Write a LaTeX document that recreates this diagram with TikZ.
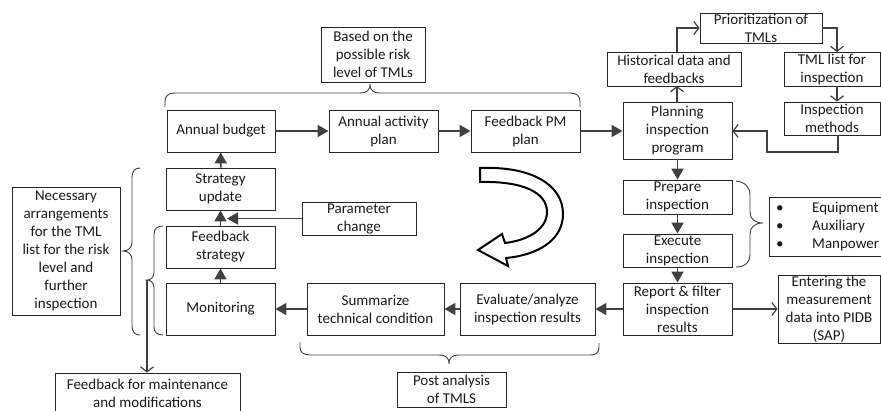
\documentclass[tikz,border=0pt]{standalone}
\usepackage{fontspec}
\setmainfont{Carlito}
\usetikzlibrary{arrows.meta}
\definecolor{ln}{HTML}{404040}
\definecolor{bd}{HTML}{262626}
\definecolor{tx}{HTML}{1A1A1A}
\begin{document}
\begin{tikzpicture}[x=1pt,y=-1pt,
  font=\fontsize{15}{18}\selectfont,
  box/.style={draw=bd,line width=0.9pt,inner sep=0pt,align=center,text=tx},
  farr/.style={draw=ln,line width=1.8pt,-{Triangle[length=11pt,width=12pt]}},
  oarr/.style={draw=ln,line width=1.6pt,-{Straight Barb[length=5pt,width=13pt,line width=1.2pt]}},
  brace/.style={draw=ln,line width=0.9pt},
  hollow/.style={draw=black,line width=2pt,fill=white,line join=miter}]
\useasboundingbox (0,0) rectangle (881,410);

% nodes
\node[box,minimum width=108pt,minimum height=42pt] (budget) at (221,131) {Annual budget};
\node[box,minimum width=109pt,minimum height=42pt] (activity) at (383.5,131) {Annual activity\\plan};
\node[box,minimum width=109pt,minimum height=42pt] (pm) at (525.5,131) {Feedback PM\\plan};
\node[box,minimum width=104pt,minimum height=55pt] (based) at (373,54.5) {Based on the\\possible risk\\level of TMLs};
\node[box,minimum width=122pt,minimum height=30pt] (prio) at (761,28) {Prioritization of\\TMLs};
\node[box,minimum width=134pt,minimum height=34pt] (hist) at (674,69) {Historical data and\\feedbacks};
\node[box,minimum width=96pt,minimum height=34pt] (tmllist) at (832,69) {TML list for\\inspection};
\node[box,minimum width=96pt,minimum height=33pt] (methods) at (832,118.5) {Inspection\\methods};
\node[box,minimum width=109pt,minimum height=57pt] (planning) at (677.5,130.5) {Planning\\inspection\\program};
\node[box,minimum width=109pt,minimum height=34pt] (prepare) at (677.5,197) {Prepare\\inspection};
\node[box,minimum width=109pt,minimum height=33pt] (execute) at (677.5,250.5) {Execute\\inspection};
\node[box,minimum width=109pt,minimum height=52pt] (report) at (677.5,309) {Report \& filter\\inspection\\results};
\node[box,minimum width=102pt,minimum height=68pt] (entering) at (829,309) {Entering the\\measurement\\data into PIDB\\(SAP)};
\node[box,minimum width=115pt,minimum height=59pt] (equip) at (826.5,226.5) {};
\node[anchor=west,align=left,inner sep=0pt,text=tx] (equiptext) at (776,226.5)
  {\makebox[36pt][l]{•}Equipment\\\makebox[36pt][l]{•}Auxiliary\\\makebox[36pt][l]{•}Manpower};
\node[box,minimum width=135pt,minimum height=52pt] (evaluate) at (527.5,309) {Evaluate/analyze\\inspection results};
\node[box,minimum width=137pt,minimum height=52pt] (summarize) at (375.5,309) {Summarize\\technical condition};
\node[box,minimum width=109pt,minimum height=35pt] (post) at (451.5,389.5) {Post analysis\\of TMLS};
\node[box,minimum width=114pt,minimum height=33pt] (param) at (359,218.5) {Parameter\\change};
\node[box,minimum width=109pt,minimum height=42pt] (strategy) at (220.5,189) {Strategy\\update};
\node[box,minimum width=109pt,minimum height=42pt] (fbstrat) at (220.5,247) {Feedback\\strategy};
\node[box,minimum width=109pt,minimum height=52pt] (monitoring) at (220.5,309) {Monitoring};
\node[box,minimum width=108pt,minimum height=128pt] (necessary) at (66,251) {Necessary\\arrangements\\for the TML\\list for the risk\\level and\\further\\inspection};
\node[box,minimum width=185pt,minimum height=40pt] (fbmaint) at (147.5,393) {Feedback for maintenance\\and modifications};

% coordinates
\coordinate (itip) at (147,280);
\coordinate (ptip) at (227,218.5);
\coordinate (histx) at (677,86);
\coordinate (tx1) at (837,52);
\coordinate (loop1) at (838,152);
\coordinate (loop2) at (767,131);

% main loop connectors
\draw[farr] (budget) -- (activity);
\draw[farr] (activity) -- (pm);
\draw[farr] (pm.east) -- (pm.east -| planning.west);
\draw[farr] (planning) -- (prepare);
\draw[farr] (prepare) -- (execute);
\draw[farr] (execute) -- (report);
\draw[farr] (report) -- (evaluate);
\draw[farr] (evaluate) -- (summarize);
\draw[farr] (summarize) -- (monitoring);
\draw[farr] (monitoring) -- (fbstrat);
\draw[farr] (fbstrat) -- (strategy);
\draw[farr] (strategy) -- (budget);
\draw[farr] (param.west) -- (ptip);

% open-arrow connectors
\draw[oarr] (planning.north -| histx) -- (histx);
\draw[oarr] (hist.north -| histx) |- (prio.west);
\draw[oarr] (prio.east) -| (tx1);
\draw[oarr] (tmllist.south -| tx1) -- (methods.north -| tx1);
\draw[oarr] (methods.south -| loop1) -- (loop1) -| (loop2) -- (loop2 -| planning.east);
\draw[oarr] (report) -- (entering);
\draw[oarr] (itip) -- (fbmaint.north -| itip);

% braces
\draw[brace] (165,107) -- (165,102) .. controls (165,96) and (168,93) .. (175,93) -- (360,93)
  .. controls (366,93) and (370,91) .. (370,84) .. controls (370,91) and (374,93) .. (380,93)
  -- (570,93) .. controls (577,93) and (580,96) .. (580,102) -- (580,107);
\draw[brace] (300,342) -- (300,347) .. controls (300,352) and (303,355) .. (310,355) -- (439,355)
  .. controls (445,355) and (449,357) .. (449,364) .. controls (449,357) and (453,355) .. (459,355)
  -- (590,355) .. controls (597,355) and (599,352) .. (599,347) -- (599,343);
\draw[brace] (736,181) .. controls (745,182) and (750,187) .. (750,195) -- (750,212)
  .. controls (750,219) and (755,223) .. (763,223) .. controls (755,223) and (750,227) .. (750,234)
  -- (750,255) .. controls (750,262) and (745,267) .. (736,267);
\draw[brace] (140,168) .. controls (135,168) and (132,171) .. (132,177) -- (132,242)
  .. controls (132,247) and (129,251) .. (123,251) .. controls (129,251) and (132,255) .. (132,260)
  -- (132,326) .. controls (132,332) and (135,335) .. (140,335);
\draw[brace] (163,226) .. controls (157,226) and (154,229) .. (154,234) -- (154,272)
  .. controls (154,277) and (151,280) .. (147,280) .. controls (151,280) and (154,283) .. (154,288)
  -- (154,327) .. controls (154,332) and (157,335) .. (163,335);

% big hollow curved arrow
\draw[hollow] (480,168) .. controls (532,166) and (563,185) .. (563,214)
  .. controls (563,240) and (538,255) .. (506,258)
  -- (508,266) -- (478,250) -- (502,234) -- (505,243)
  .. controls (530,240) and (547,228) .. (547,212)
  .. controls (547,192) and (522,181) .. (480,182) -- cycle;
\end{tikzpicture}
\end{document}
